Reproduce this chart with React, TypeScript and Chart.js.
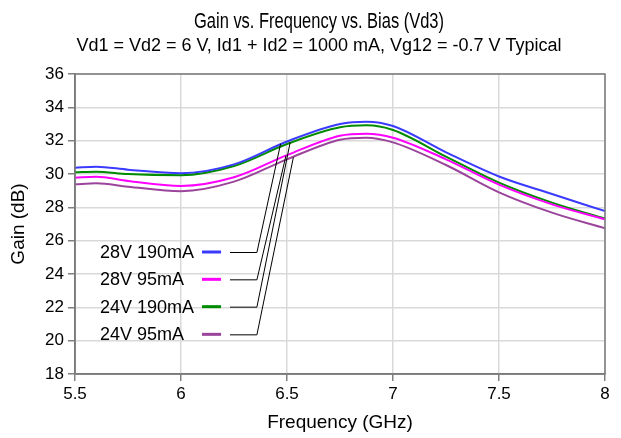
import React, { useEffect, useRef } from "react";
import { Chart, registerables } from "chart.js";

Chart.register(...registerables);

// ---- data ----
const freqs = [5.5, 5.6, 5.75, 6.0, 6.25, 6.5, 6.75, 6.875, 7.0, 7.25, 7.5, 7.75, 8.0];
const gain28V190 = [30.38, 30.44, 30.26, 30.05, 30.58, 31.95, 33.0, 33.14, 32.88, 31.3, 29.85, 28.8, 27.77];
const gain28V95 = [29.78, 29.84, 29.58, 29.28, 29.8, 31.13, 32.3, 32.42, 32.18, 30.88, 29.36, 28.18, 27.28];
const gain24V190 = [30.1, 30.14, 30.0, 29.93, 30.48, 31.8, 32.8, 32.92, 32.64, 31.04, 29.48, 28.28, 27.32];
const gain24V95 = [29.38, 29.44, 29.24, 28.97, 29.54, 30.88, 32.06, 32.18, 31.9, 30.54, 28.9, 27.68, 26.74];

const seriesLabels = ["28V 190mA", "28V 95mA", "24V 190mA", "24V 95mA"];
const seriesColors = ["#3b3bff", "#ff00ff", "#008c00", "#9b449b"];
const seriesValues = [gain28V190, gain28V95, gain24V190, gain24V95];

// leader-line targets on each curve (GHz, dB)
const leaderTargetsX = [6.47, 6.495, 6.515, 6.53];
const leaderTargetsY = [31.82, 31.1, 31.9, 31.0];
// legend rows (dB) in data units
const legendRowsY = [25.32, 23.68, 22.04, 20.38];

const titleText = "Gain vs. Frequency vs. Bias (Vd3)";
const subtitleText = "Vd1 = Vd2 = 6 V, Id1 + Id2 = 1000 mA, Vg12 = -0.7 V Typical";
const xTitle = "Frequency (GHz)";
const yTitle = "Gain (dB)";

const FONT = "Arial, 'Liberation Sans', sans-serif";

const overlayPlugin = {
  id: "overlay",
  afterDraw(chart: any) {
    const { ctx, chartArea } = chart;
    const xs = chart.scales.x;
    const ys = chart.scales.y;
    ctx.save();

    // plot box
    ctx.strokeStyle = "#7a7a7a";
    ctx.lineWidth = 1.5;
    ctx.strokeRect(chartArea.left, chartArea.top, chartArea.right - chartArea.left, chartArea.bottom - chartArea.top);

    // titles (title in a narrow face, emulated by horizontal condensing)
    ctx.fillStyle = "#000";
    ctx.textAlign = "center";
    ctx.textBaseline = "alphabetic";
    ctx.font = `22px ${FONT}`;
    const tw = ctx.measureText(titleText).width;
    const sx = 250 / tw;
    ctx.save();
    ctx.translate(319, 28);
    ctx.scale(sx, 1);
    ctx.fillText(titleText, 0, 0);
    ctx.restore();
    ctx.font = `18px ${FONT}`;
    ctx.fillText(subtitleText, 319, 51);

    // axis titles
    ctx.font = `19px ${FONT}`;
    ctx.fillText(xTitle, (chartArea.left + chartArea.right) / 2, 428);
    ctx.save();
    ctx.translate(24, (chartArea.top + chartArea.bottom) / 2);
    ctx.rotate(-Math.PI / 2);
    ctx.fillText(yTitle, 0, 0);
    ctx.restore();

    // legend
    const textX = xs.getPixelForValue(5.618);
    const swA = xs.getPixelForValue(6.099);
    const swB = xs.getPixelForValue(6.189);
    const ldA = xs.getPixelForValue(6.231);
    const ldB = xs.getPixelForValue(6.358);
    ctx.font = `18px ${FONT}`;
    ctx.textAlign = "left";
    ctx.textBaseline = "middle";
    for (let i = 0; i < seriesLabels.length; i++) {
      const py = ys.getPixelForValue(legendRowsY[i]);
      ctx.fillStyle = "#000";
      ctx.fillText(seriesLabels[i], textX, py + 1);
      ctx.strokeStyle = seriesColors[i];
      ctx.lineWidth = 3;
      ctx.beginPath();
      ctx.moveTo(swA, py);
      ctx.lineTo(swB, py);
      ctx.stroke();
      ctx.strokeStyle = "#000";
      ctx.lineWidth = 1;
      ctx.beginPath();
      ctx.moveTo(ldA, py + 0.5);
      ctx.lineTo(ldB, py + 0.5);
      ctx.lineTo(xs.getPixelForValue(leaderTargetsX[i]), ys.getPixelForValue(leaderTargetsY[i]));
      ctx.stroke();
    }
    ctx.restore();
  },
};

export default function App() {
  const ref = useRef<HTMLCanvasElement | null>(null);
  useEffect(() => {
    if (!ref.current) return;
    const chart = new Chart(ref.current, {
      type: "line",
      data: {
        datasets: seriesLabels.map((label, i) => ({
          label,
          data: freqs.map((f, j) => ({ x: f, y: seriesValues[i][j] })),
          borderColor: seriesColors[i],
          backgroundColor: seriesColors[i],
          borderWidth: 2,
          pointRadius: 0,
          cubicInterpolationMode: "monotone" as const,
          fill: false,
        })),
      },
      options: {
        animation: false,
        responsive: false,
        layout: { padding: { top: 74, right: 16, left: 0, bottom: 0 } },
        plugins: {
          legend: { display: false },
          title: { display: false },
          tooltip: { enabled: false },
        },
        scales: {
          x: {
            type: "linear",
            min: 5.5,
            max: 8,
            ticks: {
              stepSize: 0.5,
              color: "#000",
              font: { family: FONT, size: 17 },
              padding: 3,
              maxRotation: 0,
              callback: (v: any) => String(v),
            },
            grid: { color: "#d9d9d9", lineWidth: 1.5, tickColor: "#808080", tickLength: 7 },
            border: { display: true, color: "#7a7a7a", width: 1.5 },
            afterFit: (s: any) => {
              s.height = 64;
            },
          },
          y: {
            min: 18,
            max: 36,
            ticks: {
              stepSize: 2,
              color: "#000",
              font: { family: FONT, size: 17 },
              padding: 4,
            },
            grid: { color: "#d9d9d9", lineWidth: 1.5, tickColor: "#808080", tickLength: 7 },
            border: { display: true, color: "#7a7a7a", width: 1.5 },
            afterFit: (s: any) => {
              s.width = 75;
            },
          },
        },
      },
      plugins: [overlayPlugin],
    });
    return () => chart.destroy();
  }, []);
  return (
    <div style={{ position: "fixed", left: 0, top: 0, width: 621, height: 438, background: "#fff" }}>
      <canvas ref={ref} width={621} height={438} style={{ display: "block" }} />
    </div>
  );
}
